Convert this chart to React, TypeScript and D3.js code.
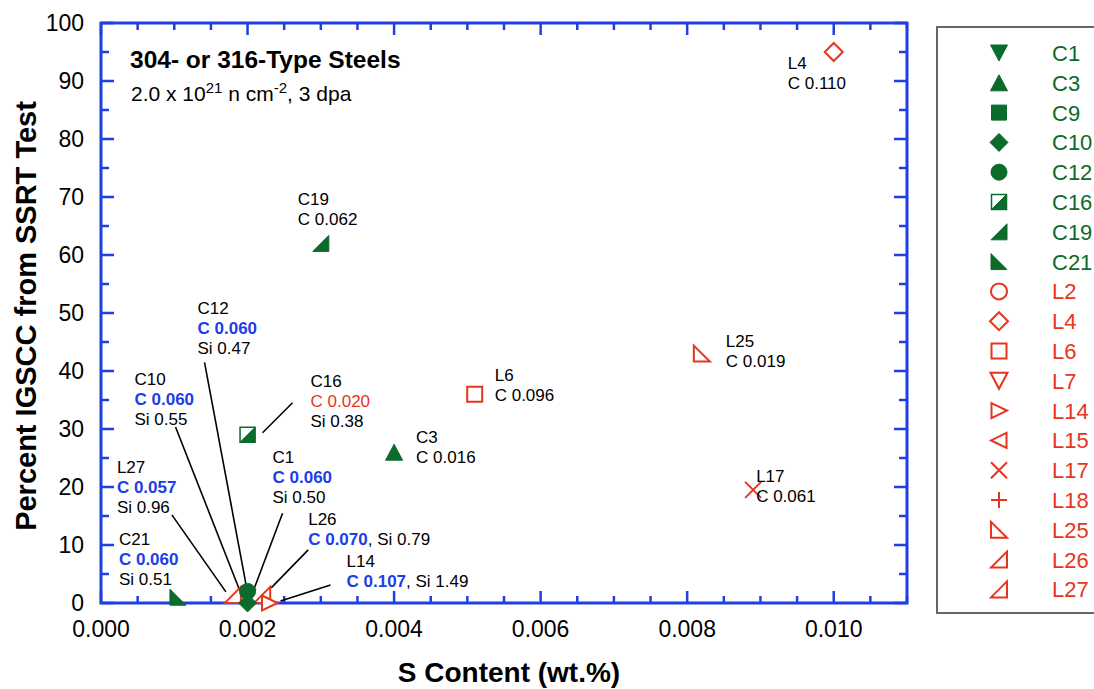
import * as d3 from "d3";

const W = 1094;
const H = 689;
const GREEN = "#0b6b2a";
const RED = "#e8341c";
const BLUE = "#1c3ee6";
const AXIS = "#1f3fe2";
const FONT = "'Liberation Sans', Arial, Helvetica, sans-serif";

// legend order + marker shape of each steel
const seriesNames = ["C1", "C3", "C9", "C10", "C12", "C16", "C19", "C21", "L2", "L4", "L6", "L7", "L14", "L15", "L17", "L18", "L25", "L26", "L27"];
const seriesShapes = ["triDown", "triUp", "square", "diamond", "circle", "halfSquare", "wedgeRight", "wedgeLeft", "circle", "diamond", "square", "triDown", "triRight", "triLeft", "cross", "plus", "wedgeLeft", "wedgeRight", "wedgeRight"];

// plotted points: S content (wt.%) vs percent IGSCC
const pointIds = ["L27", "L26", "L14", "C21", "C10", "C1", "C12", "C16", "C19", "C3", "L6", "L25", "L17", "L4"];
const sContent = [0.0018, 0.0022, 0.0023, 0.00105, 0.002, 0.002, 0.002, 0.002, 0.003, 0.004, 0.0051, 0.0082, 0.0089, 0.010];
const igscc = [1.4, 1.4, 0, 1, 0, 1, 2, 29, 62, 26, 36, 43, 19.5, 95];

const xTickValues = [0, 0.002, 0.004, 0.006, 0.008, 0.01];
const yTickValues = [0, 10, 20, 30, 40, 50, 60, 70, 80, 90, 100];

// annotation text: "n" plain black, "b" bold blue, "r" red
type Seg = [string, string];
interface Note {
  id: string;
  dx: number;
  dy: number;
  lines: Seg[][];
  leader?: [number, number, number, number];
}
const notes: Note[] = [
  { id: "L4", dx: -46, dy: 17, lines: [[["L4", "n"]], [["C 0.110", "n"]]] },
  { id: "C19", dx: -23, dy: -38, lines: [[["C19", "n"]], [["C 0.062", "n"]]] },
  { id: "C12", dx: -50, dy: -277, lines: [[["C12", "n"]], [["C 0.060", "b"]], [["Si 0.47", "n"]]], leader: [-43, -229, -1, -4] },
  { id: "C16", dx: 63, dy: -48, lines: [[["C16", "n"]], [["C 0.020", "r"]], [["Si 0.38", "n"]]], leader: [45, -32, 15, -2] },
  { id: "L6", dx: 20, dy: -13, lines: [[["L6", "n"]], [["C 0.096", "n"]]] },
  { id: "C10", dx: -113, dy: -218, lines: [[["C10", "n"]], [["C 0.060", "b"]], [["Si 0.55", "n"]]], leader: [-72, -176, -8, -13] },
  { id: "C3", dx: 22, dy: -9, lines: [[["C3", "n"]], [["C 0.016", "n"]]] },
  { id: "L25", dx: 24, dy: -7, lines: [[["L25", "n"]], [["C 0.019", "n"]]] },
  { id: "L17", dx: 3, dy: -8, lines: [[["L17", "n"]], [["C 0.061", "n"]]] },
  { id: "C1", dx: 25, dy: -134, lines: [[["C1", "n"]], [["C 0.060", "b"]], [["Si 0.50", "n"]]], leader: [35, -84, 6, -7] },
  { id: "L27", dx: -116, dy: -122, lines: [[["L27", "n"]], [["C 0.057", "b"]], [["Si 0.96", "n"]]], leader: [-61, -80, -7, -3] },
  { id: "L26", dx: 46, dy: -70, lines: [[["L26", "n"]], [["C 0.070", "b"], [", Si 0.79", "n"]]], leader: [46, -45, 9, -7] },
  { id: "C21", dx: -59, dy: -52, lines: [[["C21", "n"]], [["C 0.060", "b"]], [["Si 0.51", "n"]]] },
  { id: "L14", dx: 77, dy: -36, lines: [[["L14", "n"]], [["C 0.107", "b"], [", Si 1.49", "n"]]], leader: [61, -18, 11, -2] },
];

const shapePath = (shape: string): string => {
  switch (shape) {
    case "triDown": return "M-8.5,-8L8.5,-8L0,8Z";
    case "triUp": return "M0,-8L8.5,8L-8.5,8Z";
    case "triRight": return "M-7.5,-7.5L8,0L-7.5,7.5Z";
    case "triLeft": return "M7.5,-7.5L-8,0L7.5,7.5Z";
    case "square": return "M-7.5,-7.5H7.5V7.5H-7.5Z";
    case "diamond": return "M0,-9L9,0L0,9L-9,0Z";
    case "wedgeRight": return "M-8,8L8,8L8,-8Z";
    case "wedgeLeft": return "M-8,-8L-8,8L8,8Z";
    case "cross": return "M-8,-8L8,8M-8,8L8,-8";
    case "plus": return "M-8,0H8M0,-8V8";
    default: return "";
  }
};

const Marker = ({ name, cx, cy }: { name: string; cx: number; cy: number }) => {
  const shape = seriesShapes[seriesNames.indexOf(name)];
  const filled = name.startsWith("C");
  const color = filled ? GREEN : RED;
  const t = `translate(${cx},${cy})`;
  if (shape === "circle") {
    return <circle cx={cx} cy={cy} r={8} fill={filled ? color : "white"} stroke={color} strokeWidth={filled ? 1 : 2} />;
  }
  if (shape === "halfSquare") {
    return (
      <g transform={t}>
        <path d={shapePath("square")} fill="white" stroke={color} strokeWidth={1.5} />
        <path d="M-7.5,7.5L7.5,7.5L7.5,-7.5Z" fill={color} stroke={color} strokeWidth={1} />
      </g>
    );
  }
  const open = !filled || shape === "cross" || shape === "plus";
  return (
    <path
      transform={t}
      d={shapePath(shape)}
      fill={open ? (shape === "cross" || shape === "plus" ? "none" : "white") : color}
      stroke={color}
      strokeWidth={open ? 2 : 1}
      strokeLinejoin="miter"
    />
  );
};

export default function App() {
  const x = d3.scaleLinear().domain([0, 0.011]).range([101, 907]);
  const y = d3.scaleLinear().domain([0, 100]).range([603, 23]);
  const [x0, x1] = x.range();
  const [y0, y1] = y.range();

  const xMinor = d3.range(0, 23).map((i) => i * 0.0005);
  const yMinor = d3.range(0, 21).map((i) => i * 5);
  const isMajorX = (v: number) => Math.abs(v / 0.002 - Math.round(v / 0.002)) < 1e-6;

  const pos = (id: string) => {
    const i = pointIds.indexOf(id);
    return [x(sContent[i]), y(igscc[i])];
  };

  const segStyle = (s: string) =>
    s === "b"
      ? { fill: BLUE, fontWeight: 700 }
      : s === "r"
      ? { fill: RED, fontWeight: 400 }
      : { fill: "#000", fontWeight: 400 };

  return (
    <svg width={W} height={H} style={{ position: "absolute", left: 0, top: 0, background: "#fff" }} fontFamily={FONT}>
      {/* ticks, inward on all four sides */}
      <g stroke={AXIS} strokeWidth={2.5}>
        {xMinor.map((v, i) => {
          const len = isMajorX(v) ? 12 : 7;
          return (
            <g key={"xt" + i}>
              <line x1={x(v)} x2={x(v)} y1={y0} y2={y0 - len} />
              <line x1={x(v)} x2={x(v)} y1={y1} y2={y1 + len} />
            </g>
          );
        })}
        {yMinor.map((v, i) => {
          const len = i % 2 === 0 ? 13 : 8;
          return (
            <g key={"yt" + i}>
              <line x1={x0} x2={x0 + len} y1={y(v)} y2={y(v)} />
              <line x1={x1} x2={x1 - len} y1={y(v)} y2={y(v)} />
            </g>
          );
        })}
      </g>
      <rect x={x0} y={y1} width={x1 - x0} height={y0 - y1} fill="none" stroke={AXIS} strokeWidth={3} />

      {/* tick labels */}
      <g fontSize={23} fill="#000">
        {xTickValues.map((v) => (
          <text key={"xl" + v} x={x(v)} y={637} textAnchor="middle">
            {d3.format(".3f")(v)}
          </text>
        ))}
        {yTickValues.map((v) => (
          <text key={"yl" + v} x={84} y={y(v) + 8} textAnchor="end">
            {v}
          </text>
        ))}
      </g>

      {/* axis titles */}
      <text x={509} y={682} textAnchor="middle" fontSize={28} fontWeight={700}>
        S Content (wt.%)
      </text>
      <text transform={`translate(36,${(y0 + y1) / 2 + 3}) rotate(-90)`} textAnchor="middle" fontSize={29} fontWeight={700}>
        Percent IGSCC from SSRT Test
      </text>

      {/* heading inside plot */}
      <text x={130} y={68} fontSize={24.5} fontWeight={700}>
        304- or 316-Type Steels
      </text>
      <text x={131} y={101} fontSize={21}>
        2.0 x 10<tspan dy={-8} fontSize={15}>21</tspan>
        <tspan dy={8}> n cm</tspan>
        <tspan dy={-8} fontSize={15}>-2</tspan>
        <tspan dy={8}>, 3 dpa</tspan>
      </text>

      {/* leader lines */}
      <g stroke="#000" strokeWidth={1.6}>
        {notes
          .filter((n) => n.leader)
          .map((n) => {
            const [px, py] = pos(n.id);
            const [a, b, c, d] = n.leader!;
            return <line key={"ld" + n.id} x1={px + a} y1={py + b} x2={px + c} y2={py + d} />;
          })}
      </g>

      {/* data markers */}
      {pointIds.map((id, i) => (
        <Marker key={"pt" + id} name={id} cx={x(sContent[i])} cy={y(igscc[i])} />
      ))}

      {/* annotations */}
      <g fontSize={17}>
        {notes.map((n) => {
          const [px, py] = pos(n.id);
          return (
            <g key={"nt" + n.id}>
              {n.lines.map((line, li) => (
                <text key={li} x={px + n.dx} y={py + n.dy + li * 20}>
                  {line.map(([t, s], si) => (
                    <tspan key={si} style={segStyle(s)}>
                      {t}
                    </tspan>
                  ))}
                </text>
              ))}
            </g>
          );
        })}
      </g>

      {/* legend */}
      <rect x={937} y={27} width={200} height={586} fill="white" stroke="#666" strokeWidth={2} />
      {seriesNames.map((name, i) => {
        const cy = 53 + i * 29.8;
        return (
          <g key={"lg" + name}>
            <Marker name={name} cx={999} cy={cy} />
            <text x={1052} y={cy + 8} fontSize={22} fill={name.startsWith("C") ? GREEN : RED}>
              {name}
            </text>
          </g>
        );
      })}
    </svg>
  );
}
